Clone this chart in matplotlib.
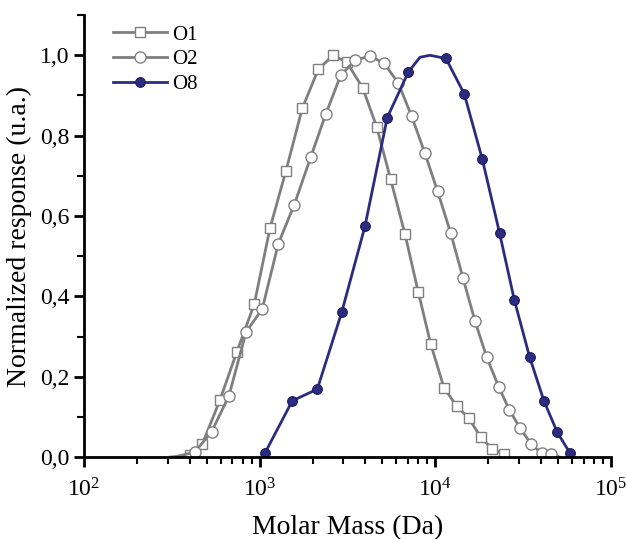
import numpy as np
import matplotlib
matplotlib.use("Agg")
import matplotlib.pyplot as plt
from matplotlib.ticker import FuncFormatter, LogLocator, MultipleLocator, NullFormatter

plt.rcParams['font.family'] = ['Liberation Serif', 'DejaVu Serif']
plt.rcParams['mathtext.fontset'] = 'stix'

# O1 (squares), first point is line only
o1_mass = [309, 401, 471, 594, 740, 932, 1145, 1412, 1748, 2156, 2623, 3128,
           3857, 4634, 5567, 6714, 7993, 9402, 11190, 13220, 15540, 18100,
           21080, 24570]
o1_resp = [0.0, 0.005, 0.032, 0.142, 0.261, 0.381, 0.570, 0.713, 0.868, 0.965,
           1.0, 0.983, 0.919, 0.822, 0.691, 0.555, 0.411, 0.282, 0.173, 0.127,
           0.096, 0.050, 0.020, 0.007]

# O2 (circles), first and last points are line only
o2_mass = [343, 428, 533, 669, 836, 1035, 1276, 1573, 1951, 2375, 2891, 3501,
           4244, 5120, 6166, 7332, 8726, 10306, 12220, 14360, 16800, 19590,
           22930, 26410, 30380, 35140, 40440, 45600, 51190]
o2_resp = [0.002, 0.013, 0.063, 0.153, 0.311, 0.369, 0.531, 0.628, 0.746, 0.853,
           0.950, 0.988, 0.998, 0.980, 0.930, 0.848, 0.756, 0.661, 0.558, 0.446,
           0.339, 0.249, 0.175, 0.117, 0.072, 0.032, 0.009, 0.007, 0.0]

# O8 (filled balls), two points near the top are line only
o8_mass = [1072, 1533, 2128, 2929, 3973, 5325, 7012, 8174, 9318, 11490, 14605,
           18490, 23226, 28120, 34410, 41500, 49410, 58350]
o8_resp = [0.01, 0.14, 0.169, 0.36, 0.574, 0.845, 0.958, 0.995, 1.0, 0.992,
           0.904, 0.742, 0.557, 0.392, 0.249, 0.140, 0.062, 0.01]

gray = '#7f7f7f'
navy = '#2b2b80'

fig = plt.figure(figsize=(6.27, 5.39), dpi=100)
ax = fig.add_axes([0.134, 0.152, 0.8405, 0.82])

ax.plot(o1_mass, o1_resp, color=gray, lw=2, marker='s', ms=7,
        mfc='white', mec=gray, mew=1, markevery=list(range(1, len(o1_mass))),
        label='O1')
ax.plot(o2_mass, o2_resp, color=gray, lw=2, marker='o', ms=8,
        mfc='white', mec=gray, mew=1, markevery=list(range(1, len(o2_mass) - 1)),
        label='O2')
o8_marks = [i for i in range(len(o8_mass)) if i not in (7, 8)]
ax.plot(o8_mass, o8_resp, color=navy, lw=2, marker='o', ms=7,
        mfc=navy, mec='#1c1c5c', mew=0.8, markevery=o8_marks, label='O8')

ax.set_xscale('log')
ax.set_xlim(100, 1e5)
ax.set_ylim(0, 1.1)

ax.spines['top'].set_visible(False)
ax.spines['right'].set_visible(False)
for s in ('left', 'bottom'):
    ax.spines[s].set_linewidth(2)

ax.xaxis.set_major_locator(LogLocator(base=10))
ax.xaxis.set_minor_locator(LogLocator(base=10, subs=np.arange(2, 10)))
ax.xaxis.set_minor_formatter(NullFormatter())
ax.yaxis.set_major_locator(MultipleLocator(0.2))
ax.yaxis.set_minor_locator(MultipleLocator(0.1))
ax.yaxis.set_major_formatter(FuncFormatter(lambda v, p: f"{v:.1f}".replace('.', ',')))

ax.tick_params(which='major', direction='out', length=7, width=2, labelsize=17)
ax.tick_params(which='minor', direction='out', length=5, width=1.5)
ax.tick_params(axis='x', pad=8)

ax.set_xlabel('Molar Mass (Da)', fontsize=20, labelpad=10)
ax.set_ylabel('Normalized response (u.a.)', fontsize=20, labelpad=6)

ax.legend(loc='upper left', bbox_to_anchor=(0.02, 1.02), frameon=False,
          fontsize=15, handlelength=2.6, labelspacing=0.25, handletextpad=0.2)

fig.savefig('out.png', dpi=100)
